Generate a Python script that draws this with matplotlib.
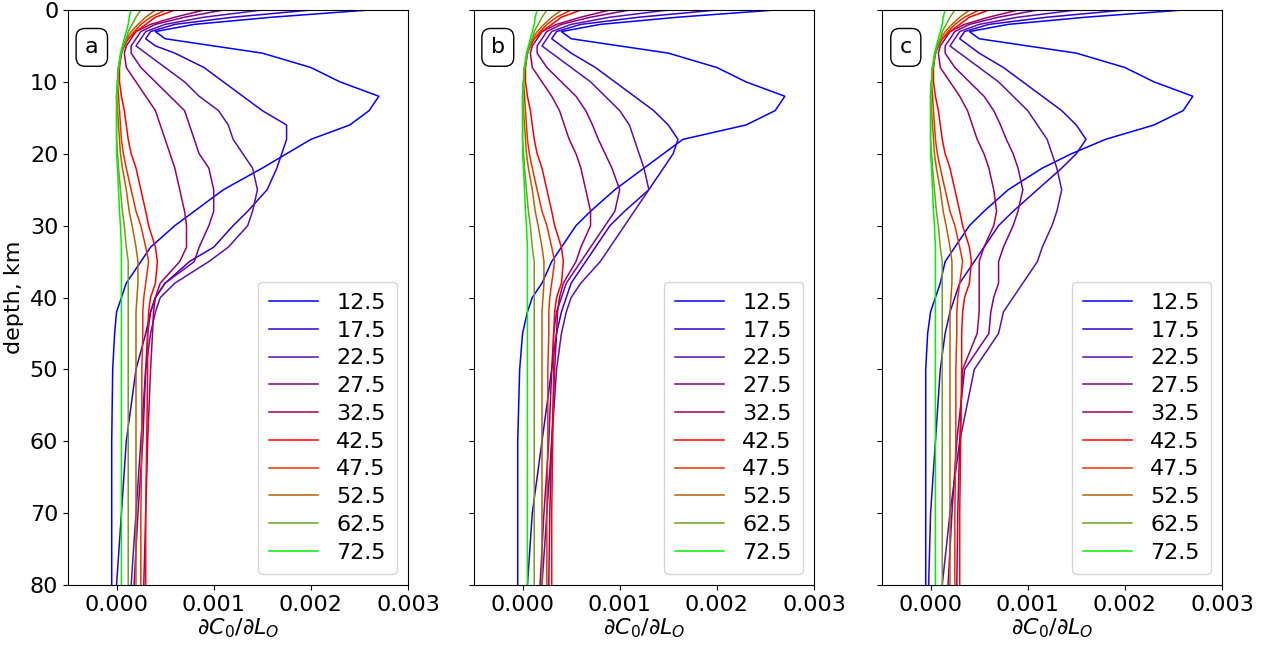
import numpy as np
import matplotlib.pyplot as plt

labels = ["12.5", "17.5", "22.5", "27.5", "32.5", "42.5", "47.5", "52.5", "62.5", "72.5"]
colors = ["#0000ff", "#3300d0", "#5a10b0", "#800090", "#a00060", "#ff0000", "#e83000", "#b86000", "#70a020", "#00f000"]

depth = [0, 1, 2, 3, 4, 5, 6, 8, 10, 12, 14, 16, 18, 20, 22, 25, 28, 30, 33, 35, 38, 40, 42, 45, 50, 60, 70, 80]

# values in units of 1e-3, one row per label
tail = [
    [0.6, 0.4, 0.3, 0.2, 0.12, 0.08, 0.05, 0.03, 0.03, 0.05, 0.08, 0.1, 0.12, 0.15, 0.2, 0.25, 0.3, 0.33, 0.4, 0.42, 0.4, 0.35, 0.33, 0.32, 0.32, 0.31, 0.3, 0.3],
    [0.5, 0.35, 0.25, 0.18, 0.12, 0.08, 0.05, 0.02, 0.01, 0.02, 0.03, 0.04, 0.05, 0.07, 0.1, 0.15, 0.2, 0.25, 0.3, 0.33, 0.3, 0.28, 0.27, 0.27, 0.26, 0.26, 0.25, 0.25],
    [0.4, 0.3, 0.22, 0.15, 0.1, 0.07, 0.05, 0.02, 0.01, 0.0, 0.01, 0.02, 0.03, 0.04, 0.06, 0.1, 0.13, 0.16, 0.2, 0.22, 0.22, 0.21, 0.2, 0.2, 0.2, 0.2, 0.2, 0.2],
    [0.25, 0.2, 0.16, 0.12, 0.1, 0.07, 0.05, 0.02, 0.01, 0.0, 0.0, 0.0, 0.0, 0.01, 0.02, 0.04, 0.06, 0.08, 0.1, 0.12, 0.12, 0.12, 0.12, 0.12, 0.12, 0.12, 0.12, 0.12],
    [0.15, 0.13, 0.12, 0.1, 0.08, 0.06, 0.04, 0.02, 0.01, 0.0, 0.0, 0.0, 0.0, 0.0, 0.01, 0.02, 0.03, 0.04, 0.05, 0.05, 0.05, 0.05, 0.05, 0.05, 0.05, 0.05, 0.05, 0.05],
]

vals_a = [
    [2.6, 1.6, 0.8, 0.4, 0.5, 1.0, 1.5, 2.0, 2.3, 2.7, 2.6, 2.4, 2.0, 1.75, 1.5, 1.1, 0.8, 0.6, 0.35, 0.25, 0.1, 0.05, 0.0, -0.02, -0.04, -0.05, -0.05, -0.05],
    [2.0, 1.2, 0.6, 0.35, 0.3, 0.4, 0.6, 0.9, 1.1, 1.3, 1.5, 1.75, 1.75, 1.7, 1.65, 1.55, 1.35, 1.2, 1.0, 0.75, 0.5, 0.4, 0.35, 0.3, 0.2, 0.1, 0.05, 0.0],
    [1.5, 0.9, 0.5, 0.3, 0.25, 0.2, 0.3, 0.5, 0.7, 0.85, 1.05, 1.15, 1.2, 1.3, 1.4, 1.45, 1.4, 1.35, 1.15, 0.95, 0.6, 0.45, 0.4, 0.35, 0.3, 0.25, 0.2, 0.15],
    [1.1, 0.7, 0.4, 0.25, 0.2, 0.15, 0.15, 0.25, 0.4, 0.55, 0.7, 0.75, 0.8, 0.85, 0.95, 1.0, 1.0, 0.95, 0.85, 0.8, 0.5, 0.4, 0.35, 0.32, 0.3, 0.27, 0.22, 0.18],
    [0.9, 0.6, 0.35, 0.2, 0.15, 0.1, 0.08, 0.1, 0.2, 0.3, 0.4, 0.45, 0.5, 0.55, 0.6, 0.65, 0.7, 0.72, 0.72, 0.65, 0.45, 0.4, 0.38, 0.37, 0.35, 0.32, 0.3, 0.28],
] + tail

vals_b = [
    [2.6, 1.6, 0.8, 0.4, 0.5, 1.0, 1.5, 2.0, 2.3, 2.7, 2.6, 2.3, 1.65, 1.45, 1.25, 0.95, 0.7, 0.55, 0.4, 0.3, 0.2, 0.1, 0.05, 0.0, -0.03, -0.05, -0.05, -0.05],
    [2.0, 1.2, 0.6, 0.35, 0.3, 0.4, 0.5, 0.75, 0.95, 1.15, 1.35, 1.5, 1.6, 1.55, 1.45, 1.3, 1.05, 0.9, 0.75, 0.65, 0.5, 0.45, 0.4, 0.35, 0.3, 0.2, 0.1, 0.05],
    [1.5, 0.9, 0.5, 0.3, 0.25, 0.2, 0.3, 0.5, 0.7, 0.85, 1.0, 1.1, 1.15, 1.2, 1.25, 1.3, 1.15, 1.05, 0.9, 0.8, 0.6, 0.5, 0.45, 0.4, 0.35, 0.3, 0.25, 0.2],
    [1.1, 0.7, 0.4, 0.25, 0.2, 0.15, 0.15, 0.25, 0.4, 0.55, 0.65, 0.72, 0.78, 0.85, 0.92, 1.0, 0.95, 0.85, 0.7, 0.6, 0.45, 0.4, 0.35, 0.32, 0.3, 0.27, 0.22, 0.18],
    [0.9, 0.6, 0.35, 0.2, 0.15, 0.1, 0.08, 0.1, 0.2, 0.3, 0.38, 0.43, 0.48, 0.55, 0.6, 0.65, 0.7, 0.7, 0.6, 0.55, 0.42, 0.38, 0.36, 0.35, 0.33, 0.3, 0.28, 0.27],
] + tail

vals_c = [
    [2.6, 1.6, 0.8, 0.4, 0.5, 1.0, 1.5, 2.0, 2.3, 2.7, 2.6, 2.3, 1.8, 1.45, 1.15, 0.8, 0.55, 0.4, 0.25, 0.15, 0.1, 0.05, 0.0, -0.03, -0.05, -0.05, -0.05, -0.05],
    [2.0, 1.2, 0.6, 0.35, 0.3, 0.4, 0.5, 0.75, 0.95, 1.15, 1.35, 1.5, 1.6, 1.5, 1.35, 1.1, 0.85, 0.7, 0.55, 0.45, 0.3, 0.25, 0.2, 0.15, 0.1, 0.05, 0.0, -0.02],
    [1.5, 0.9, 0.5, 0.3, 0.25, 0.2, 0.3, 0.5, 0.7, 0.85, 1.0, 1.1, 1.2, 1.25, 1.3, 1.35, 1.3, 1.25, 1.15, 1.1, 0.95, 0.85, 0.75, 0.7, 0.45, 0.3, 0.2, 0.12],
    [1.1, 0.7, 0.4, 0.25, 0.2, 0.15, 0.15, 0.25, 0.4, 0.55, 0.65, 0.72, 0.78, 0.85, 0.9, 0.95, 0.9, 0.85, 0.75, 0.7, 0.7, 0.65, 0.62, 0.6, 0.35, 0.27, 0.22, 0.18],
    [0.9, 0.6, 0.35, 0.2, 0.15, 0.1, 0.08, 0.1, 0.2, 0.3, 0.38, 0.43, 0.48, 0.55, 0.6, 0.65, 0.68, 0.65, 0.55, 0.5, 0.5, 0.5, 0.5, 0.48, 0.33, 0.3, 0.28, 0.27],
] + tail

panels = [("a", vals_a), ("b", vals_b), ("c", vals_c)]

plt.rcParams["font.size"] = 16
fig = plt.figure(figsize=(12.7, 6.46), dpi=100)
lefts = [68, 474, 882]
for i, (tag, vals) in enumerate(panels):
    ax = fig.add_axes([lefts[i] / 1270, 61 / 646, 340 / 1270, 575 / 646])
    for lab, col, v in zip(labels, colors, vals):
        ax.plot(np.array(v) * 1e-3, depth, color=col, lw=1.1, label=lab)
    ax.set_xlim(-0.0005, 0.003)
    ax.set_ylim(80, 0)
    ax.set_xticks([0.0, 0.001, 0.002, 0.003])
    ax.set_xticklabels(["0.000", "0.001", "0.002", "0.003"])
    ax.set_xlabel(r"$\partial C_0 / \partial L_O$", labelpad=1)
    if i == 0:
        ax.set_ylabel("depth, km")
    else:
        ax.set_yticklabels([])
    ax.text(0.07, 0.935, tag, transform=ax.transAxes, ha="center", va="center",
            bbox=dict(boxstyle="round,pad=0.4", fc="white", ec="black"))
    ax.legend(loc="lower right", fontsize=16, handlelength=2.2, borderpad=0.5,
              labelspacing=0.35)

fig.savefig("out.png")
